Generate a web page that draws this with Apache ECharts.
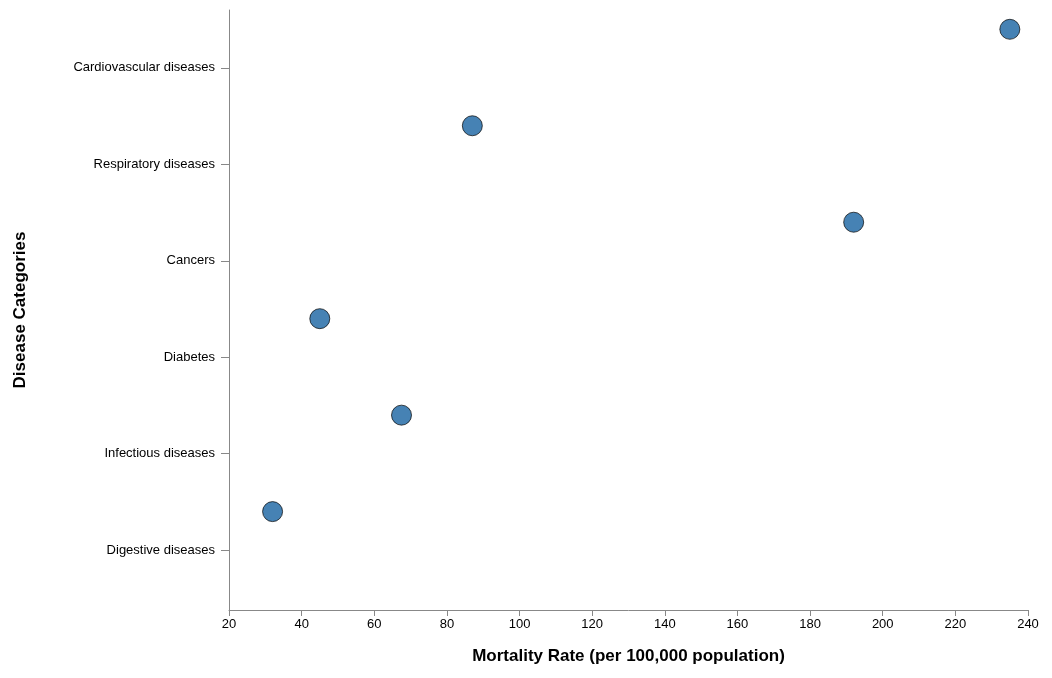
<!DOCTYPE html>
<html>
<head>
<meta charset="utf-8">
<script src="https://cdn.jsdelivr.net/npm/echarts@6/dist/echarts.min.js"></script>
<style>html,body{margin:0;padding:0;background:#fff}#main{width:1052px;height:678px}</style>
</head>
<body>
<div id="main"></div>
<script>
// categories bottom to top
var categories = ['Digestive diseases', 'Infectious diseases', 'Diabetes', 'Cancers', 'Respiratory diseases', 'Cardiovascular diseases']
var rates = [32, 67.5, 45, 192, 87, 235]
var xTicks = [20, 40, 60, 80, 100, 120, 140, 160, 180, 200, 220, 240]

var myChart = echarts.init(document.getElementById('main'))
var points = rates.map(function (v, i) { return [v, i + 0.4] })
var tickIdx = categories.map(function (c, i) { return i })
var option = {
  animation: false,
  textStyle: { fontFamily: 'Liberation Sans, Arial, sans-serif' },
  grid: { left: 229, right: 24, top: 10, bottom: 68 },
  xAxis: {
    type: 'value', min: 20, max: 240, interval: 20,
    name: 'Mortality Rate (per 100,000 population)',
    nameLocation: 'middle', nameGap: 38,
    nameTextStyle: { fontSize: 17, fontWeight: 'bold', color: '#000' },
    axisLine: { show: true, onZero: false, lineStyle: { color: '#888' } },
    axisTick: { show: true, length: 6, lineStyle: { color: '#888' } },
    axisLabel: { color: '#000', fontSize: 13, margin: 8 },
    splitLine: { show: false }
  },
  yAxis: {
    type: 'value', min: -0.62, max: 5.6,
    name: 'Disease Categories',
    nameLocation: 'middle', nameGap: 200, nameRotate: 90,
    nameTextStyle: { fontSize: 17, fontWeight: 'bold', color: '#000' },
    axisLine: { show: true, onZero: false, lineStyle: { color: '#888' } },
    axisTick: { show: true, length: 8, customValues: tickIdx, lineStyle: { color: '#888' } },
    axisLabel: {
      color: '#000', fontSize: 13, margin: 14, customValues: tickIdx,
      formatter: function (v) { return categories[Math.round(v)] }
    },
    splitLine: { show: false }
  },
  series: [{
    type: 'scatter',
    data: points,
    symbolSize: 20,
    itemStyle: { color: '#4682b4', borderColor: '#000', borderWidth: 0.7, opacity: 1 }
  }]
}
myChart.setOption(option)
</script>
</body>
</html>
